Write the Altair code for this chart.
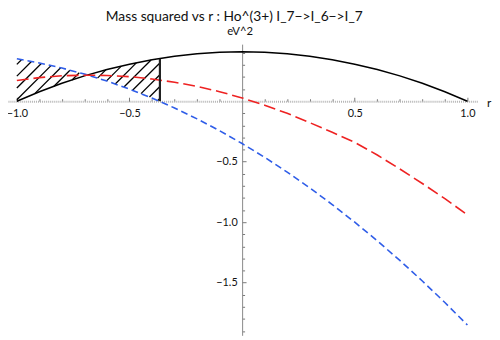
import altair as alt
import pandas as pd
import numpy as np

# ---- data ----
r_vals = [-1.0, -0.9, -0.8, -0.7, -0.6, -0.5, -0.4, -0.3, -0.2, -0.1, 0.0,
          0.1, 0.2, 0.3, 0.4, 0.5, 0.6, 0.7, 0.8, 0.9, 1.0]
black_vals = [0.0, 0.078, 0.148, 0.209, 0.262, 0.306, 0.342, 0.371, 0.392, 0.404, 0.408,
              0.404, 0.392, 0.371, 0.342, 0.306, 0.262, 0.209, 0.148, 0.078, 0.0]
red_vals = [0.171, 0.195, 0.210, 0.215, 0.213, 0.203, 0.183, 0.157, 0.122, 0.079, 0.027,
            -0.033, -0.100, -0.177, -0.257, -0.340, -0.445, -0.560, -0.680, -0.805, -0.940]
blue_vals = [0.350, 0.316, 0.274, 0.224, 0.166, 0.100, 0.026, -0.056, -0.146, -0.244, -0.350,
             -0.464, -0.586, -0.716, -0.854, -1.000, -1.154, -1.316, -1.486, -1.664, -1.850]

boundary_r = -0.365      # right edge of the hatched region
boundary_top = 0.350     # black curve value there

x_major = [-1.0, -0.5, 0.5, 1.0]
x_minor = [-0.9, -0.8, -0.7, -0.6, -0.4, -0.3, -0.2, -0.1,
           0.1, 0.2, 0.3, 0.4, 0.6, 0.7, 0.8, 0.9]
y_major = [-1.5, -1.0, -0.5]
y_minor = [0.4, 0.3, 0.2, 0.1, -0.1, -0.2, -0.3, -0.4, -0.6, -0.7, -0.8, -0.9,
           -1.1, -1.2, -1.3, -1.4, -1.6, -1.7, -1.8, -1.9]

title_text = "Mass squared vs r : Ho^(3+) I_7\u2212>I_6\u2212>I_7"
y_title = "eV^2"
x_title = "r"

# ---- layout constants ----
W, H = 477, 296
XDOM = [-1.0393, 1.0437]
YDOM = [-1.935, 0.4715]
FONT = "Lato"

xs = alt.Scale(domain=XDOM, nice=False, zero=False)
ys = alt.Scale(domain=YDOM, nice=False, zero=False)

curves = pd.DataFrame({"r": r_vals, "black": black_vals, "red": red_vals, "blue": blue_vals})

# ---- hatch segments (decoration of the region between black and blue) ----
rr = np.linspace(-1.0, boundary_r, 2000)
bk = np.interp(rr, r_vals, black_vals)
bl = np.interp(rr, r_vals, blue_vals)
lo = np.maximum(np.minimum(bk, bl), 0.0)
hi = np.maximum(bk, bl)
k = (W / (XDOM[1] - XDOM[0])) / (H / (YDOM[1] - YDOM[0]))  # 45 degrees on screen
segs = []
for i in range(-1, 15):
    r0 = -0.43 - 0.0524 * i
    v = k * (rr - r0)
    inside = (v >= lo) & (v <= hi)
    idx = np.flatnonzero(inside)
    if idx.size == 0:
        continue
    breaks = np.flatnonzero(np.diff(idx) > 1)
    starts = np.concatenate([[idx[0]], idx[breaks + 1]])
    ends = np.concatenate([idx[breaks], [idx[-1]]])
    for s, e in zip(starts, ends):
        if e > s:
            segs.append({"r": rr[s], "v": v[s], "r2": rr[e], "v2": v[e]})
hatch = pd.DataFrame(segs)

gray_tick = "#777777"

ax_x_lab = alt.Axis(orient="bottom", offset=-238, values=x_major, format=".1f",
                    ticks=False, labelPadding=7, domain=True, domainColor="#b4b4b4",
                    domainWidth=2, domainDash=[1, 1], grid=False, title=None,
                    labelFont=FONT, labelFontSize=11, labelColor="#111")
ax_x_maj = alt.Axis(orient="top", offset=-58, values=x_major, ticks=True, tickSize=4,
                    tickColor=gray_tick, labels=False, domain=False, grid=False, title=None)
ax_x_min = alt.Axis(orient="top", offset=-58, values=x_minor, ticks=True, tickSize=2.5,
                    tickColor=gray_tick, labels=False, domain=False, grid=False, title=None)
ax_y_lab = alt.Axis(orient="left", offset=-238, values=y_major, format=".1f",
                    ticks=False, labelPadding=5, domain=True, domainColor="#888888",
                    domainWidth=1, grid=False, title=None,
                    labelFont=FONT, labelFontSize=11, labelColor="#111")
ax_y_maj = alt.Axis(orient="right", offset=-239, values=y_major, ticks=True, tickSize=4,
                    tickColor=gray_tick, labels=False, domain=False, grid=False, title=None)
ax_y_min = alt.Axis(orient="right", offset=-239, values=y_minor, ticks=True, tickSize=2.5,
                    tickColor=gray_tick, labels=False, domain=False, grid=False, title=None)

base = alt.Chart(curves)

hatch_layer = alt.Chart(hatch).mark_rule(color="black", strokeWidth=1.3).encode(
    x=alt.X("r:Q", scale=xs, axis=ax_x_min),
    y=alt.Y("v:Q", scale=ys, axis=ax_y_min),
    x2="r2:Q", y2="v2:Q")

black_line = base.mark_line(color="black", strokeWidth=1.5).encode(
    x=alt.X("r:Q", scale=xs, axis=ax_x_lab),
    y=alt.Y("black:Q", scale=ys, axis=ax_y_lab))

blue_line = base.mark_line(color="#2f5de8", strokeWidth=1.6, strokeDash=[7, 4]).encode(
    x=alt.X("r:Q", scale=xs, axis=ax_x_maj),
    y=alt.Y("blue:Q", scale=ys, axis=ax_y_maj))

red_line = base.mark_line(color="#ee2222", strokeWidth=1.6, strokeDash=[12, 5]).encode(
    x=alt.X("r:Q", scale=xs, axis=None),
    y=alt.Y("red:Q", scale=ys, axis=None))

vrule = alt.Chart(pd.DataFrame({"r": [boundary_r], "v0": [0.0], "v1": [boundary_top]})).mark_rule(
    color="#222", strokeWidth=2.2).encode(
    x=alt.X("r:Q", scale=xs, axis=None),
    y=alt.Y("v0:Q", scale=ys, axis=None),
    y2="v1:Q")

one = pd.DataFrame({"a": [0]})
title_layer = alt.Chart(one).mark_text(text=title_text, font=FONT, fontSize=14, align="center",
                                       baseline="alphabetic", color="#111").encode(
    x=alt.value(230), y=alt.value(-24))
ytitle_layer = alt.Chart(one).mark_text(text=y_title, font=FONT, fontSize=11.5, align="center",
                                        baseline="alphabetic", color="#111").encode(
    x=alt.value(236), y=alt.value(-9))
xtitle_layer = alt.Chart(one).mark_text(text=x_title, font=FONT, fontSize=12, align="center",
                                        baseline="middle", color="#111").encode(
    x=alt.value(489), y=alt.value(60))

chart = alt.layer(hatch_layer, black_line, blue_line, red_line, vrule,
                  title_layer, ytitle_layer, xtitle_layer).resolve_axis(
    x="independent", y="independent").properties(
    width=W, height=H,
    autosize=alt.AutoSizeParams(type="none"),
    padding={"left": 0, "top": 34, "right": 15, "bottom": 2},
    background="white",
).configure_view(stroke=None)

chart.save("out.html", embed_options={"renderer": "svg", "actions": False})
